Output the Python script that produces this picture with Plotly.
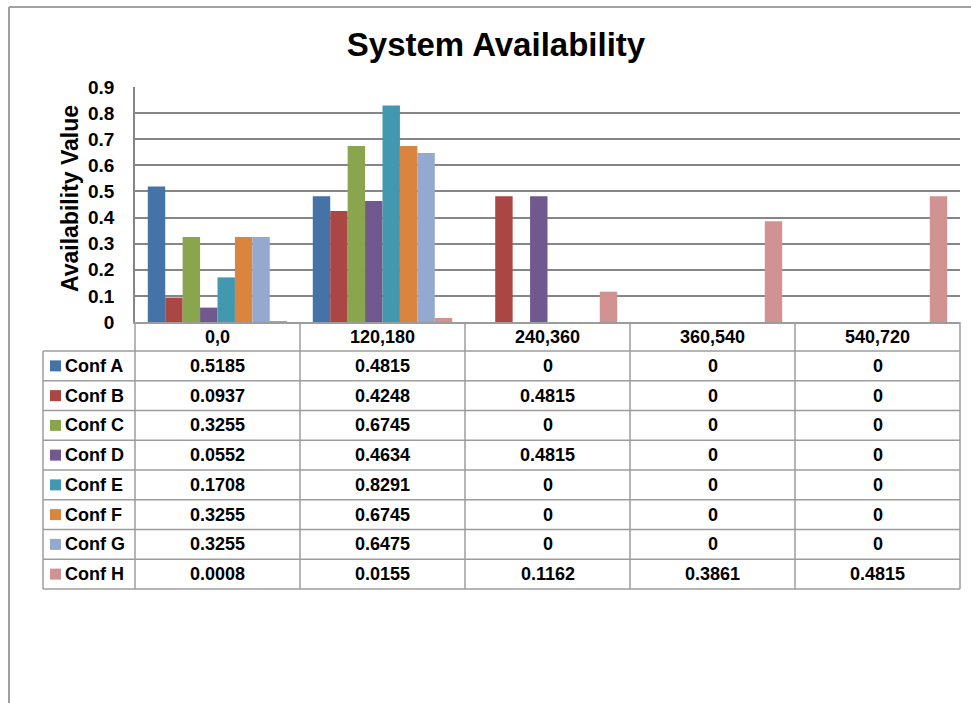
import plotly.graph_objects as go

categories = ["0,0", "120,180", "240,360", "360,540", "540,720"]
series_names = ["Conf A", "Conf B", "Conf C", "Conf D", "Conf E", "Conf F", "Conf G", "Conf H"]
conf_a = [0.5185, 0.4815, 0, 0, 0]
conf_b = [0.0937, 0.4248, 0.4815, 0, 0]
conf_c = [0.3255, 0.6745, 0, 0, 0]
conf_d = [0.0552, 0.4634, 0.4815, 0, 0]
conf_e = [0.1708, 0.8291, 0, 0, 0]
conf_f = [0.3255, 0.6745, 0, 0, 0]
conf_g = [0.3255, 0.6475, 0, 0, 0]
conf_h = [0.0008, 0.0155, 0.1162, 0.3861, 0.4815]
series_values = [conf_a, conf_b, conf_c, conf_d, conf_e, conf_f, conf_g, conf_h]
y_ticks = [0, 0.1, 0.2, 0.3, 0.4, 0.5, 0.6, 0.7, 0.8, 0.9]
y_tick_labels = ["0", "0.1", "0.2", "0.3", "0.4", "0.5", "0.6", "0.7", "0.8", "0.9"]

colors = ["#4572A7", "#AA4643", "#89A54E", "#71588F", "#4198AF", "#DB843D", "#93A9CF", "#D19392"]

W, H = 971, 703
PL, PR, PT, PB = 135, 960, 87, 322
FONT = "Liberation Sans, Arial, sans-serif"
GRID = "#868686"
TABLE = "#9c9c9c"


def px(X):
    return (X - PL) / (PR - PL)


def py(Y):
    return (PB - Y) / (PB - PT)


fig = go.Figure()
for name, vals, col in zip(series_names, series_values, colors):
    fig.add_trace(go.Bar(x=categories, y=vals, name=name, marker=dict(color=col, line=dict(width=0))))

shapes = []
annotations = []

# chart frame
shapes.append(dict(type="line", xref="paper", yref="paper", x0=px(9), x1=px(9), y0=py(7), y1=py(710),
                   line=dict(color="#a0a0a0", width=2)))
shapes.append(dict(type="line", xref="paper", yref="paper", x0=px(9), x1=px(980), y0=py(7), y1=py(7),
                   line=dict(color="#a0a0a0", width=2)))

# data table geometry
header_bottom = 351
row_h = 29.75
table_bottom = header_bottom + row_h * len(series_names)
legend_left = 43
ncat = len(categories)

for i in range(ncat + 1):
    xp = i / ncat
    shapes.append(dict(type="line", xref="paper", yref="paper", x0=xp, x1=xp, y0=py(PB), y1=py(table_bottom),
                       line=dict(color=TABLE, width=1.5)))
shapes.append(dict(type="line", xref="paper", yref="paper", x0=px(legend_left), x1=px(legend_left),
                   y0=py(header_bottom), y1=py(table_bottom), line=dict(color=TABLE, width=1.5)))
for r in range(len(series_names) + 1):
    Y = header_bottom + r * row_h
    shapes.append(dict(type="line", xref="paper", yref="paper", x0=px(legend_left), x1=1, y0=py(Y), y1=py(Y),
                       line=dict(color=TABLE, width=1.5)))

cell_font = dict(family=FONT, size=18, color="#000000", weight="bold")

for c in categories:
    annotations.append(dict(x=c, xref="x", y=py((PB + header_bottom) / 2), yref="paper", text=c,
                            showarrow=False, font=cell_font, xanchor="center", yanchor="middle"))

for r, (name, vals, col) in enumerate(zip(series_names, series_values, colors)):
    yc = header_bottom + (r + 0.5) * row_h
    shapes.append(dict(type="rect", xref="paper", yref="paper", x0=px(50), x1=px(61), y0=py(yc - 5.5),
                       y1=py(yc + 5.5), fillcolor=col, line=dict(width=0)))
    annotations.append(dict(x=px(63), xref="paper", y=py(yc), yref="paper", text=name, showarrow=False,
                            font=cell_font, xanchor="left", yanchor="middle"))
    for c, v in zip(categories, vals):
        annotations.append(dict(x=c, xref="x", y=py(yc), yref="paper", text=f"{v:g}", showarrow=False,
                                font=cell_font, xanchor="center", yanchor="middle"))

annotations.append(dict(x=px(70), xref="paper", y=py(199), yref="paper", text="Availability Value",
                        textangle=-90, showarrow=False, xanchor="center", yanchor="middle",
                        font=dict(family=FONT, size=23, color="#000000", weight="bold")))

fig.update_layout(
    width=W, height=H,
    margin=dict(l=PL, r=W - PR, t=PT, b=H - PB, pad=0),
    paper_bgcolor="white", plot_bgcolor="white",
    barmode="group", bargap=0.155, bargroupgap=0,
    showlegend=False,
    title=dict(text="System Availability", x=496 / W, xanchor="center", y=1 - 44 / H, yanchor="middle",
               xref="container", yref="container",
               font=dict(family=FONT, size=33, color="#000000", weight="bold")),
    xaxis=dict(range=[-0.5, ncat - 0.5], showticklabels=False, showgrid=False, zeroline=False,
               showline=True, linecolor=TABLE, linewidth=1.5, fixedrange=True),
    yaxis=dict(range=[0, 0.9], tickvals=y_ticks, ticktext=y_tick_labels, showgrid=True, gridcolor=GRID,
               gridwidth=1.5, zeroline=False, showline=True, linecolor=GRID, linewidth=1.5, ticks="",
               ticklabelstandoff=15, tickfont=dict(family=FONT, size=19, color="#000000", weight="bold"),
               fixedrange=True),
    shapes=shapes,
    annotations=annotations,
)

fig.write_html("out.html")
